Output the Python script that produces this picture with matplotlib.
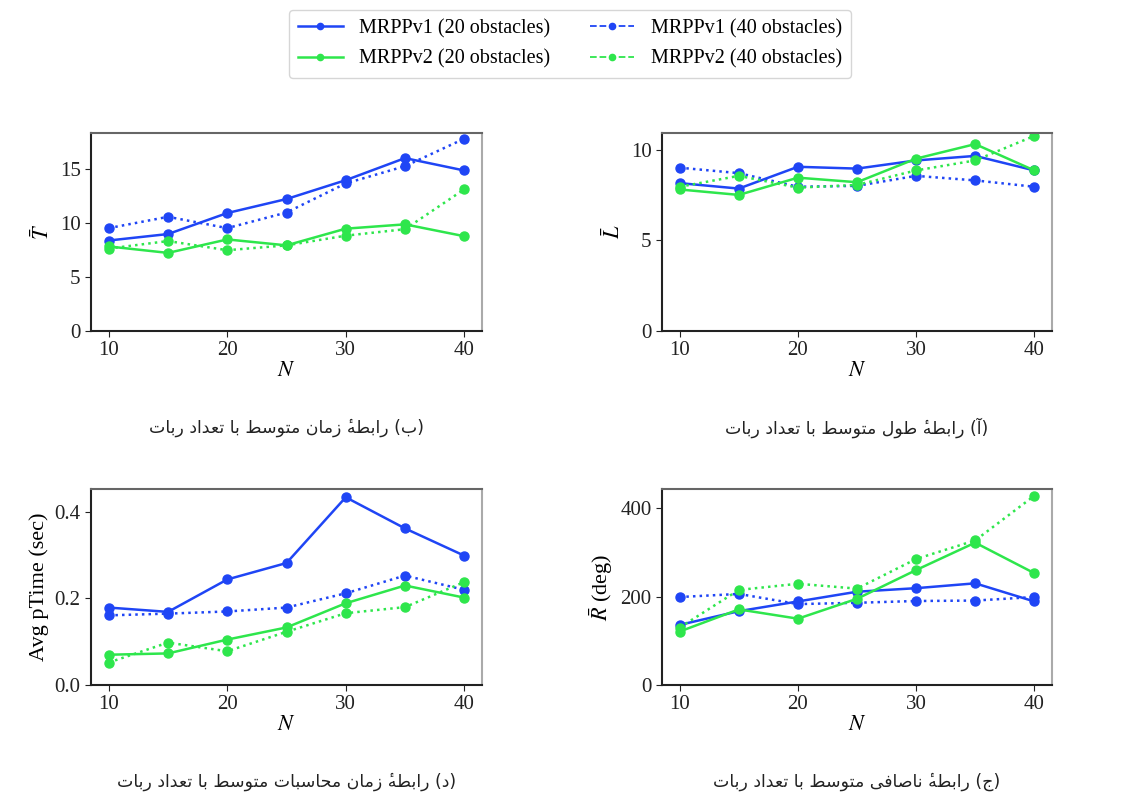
import matplotlib
matplotlib.use("Agg")
import matplotlib.pyplot as plt
from matplotlib.lines import Line2D

plt.rcParams['font.family'] = ['Liberation Serif', 'DejaVu Sans']
plt.rcParams['mathtext.fontset'] = 'stix'
plt.rcParams['font.size'] = 14

N = [10, 15, 20, 25, 30, 35, 40]

# average time
T_v1_20 = [8.4, 9.0, 10.95, 12.25, 14.0, 16.05, 14.9]
T_v1_40 = [9.55, 10.6, 9.55, 11.0, 13.7, 15.3, 17.85]
T_v2_20 = [7.85, 7.25, 8.5, 7.95, 9.5, 9.9, 8.8]
T_v2_40 = [7.65, 8.35, 7.5, 7.95, 8.85, 9.45, 13.15]

# average length
L_v1_20 = [8.15, 7.85, 9.05, 8.95, 9.4, 9.65, 8.85]
L_v1_40 = [9.0, 8.7, 7.95, 8.0, 8.55, 8.3, 7.95]
L_v2_20 = [7.8, 7.5, 8.45, 8.2, 9.5, 10.3, 8.85]
L_v2_40 = [7.95, 8.55, 7.9, 8.05, 8.85, 9.4, 10.75]

# avg computation time
P_v1_20 = [0.179, 0.169, 0.244, 0.282, 0.434, 0.362, 0.299]
P_v1_40 = [0.161, 0.165, 0.170, 0.179, 0.212, 0.253, 0.220]
P_v2_20 = [0.070, 0.073, 0.105, 0.133, 0.189, 0.230, 0.202]
P_v2_40 = [0.052, 0.098, 0.078, 0.123, 0.166, 0.180, 0.238]

# roughness
R_v1_20 = [136, 167, 189, 211, 219, 230, 189]
R_v1_40 = [199, 206, 183, 186, 190, 191, 199]
R_v2_20 = [121, 171, 150, 195, 260, 322, 253]
R_v2_40 = [130, 215, 229, 218, 285, 327, 428]

labels = ['MRPPv1 (20 obstacles)', 'MRPPv2 (20 obstacles)',
          'MRPPv1 (40 obstacles)', 'MRPPv2 (40 obstacles)']
captions = ['(ب) رابطهٔ زمان متوسط با تعداد ربات',
            '(آ) رابطهٔ طول متوسط با تعداد ربات',
            '(د) رابطهٔ زمان محاسبات متوسط با تعداد ربات',
            '(ج) رابطهٔ ناصافی متوسط با تعداد ربات']

BLUE = '#1f45f5'
GREEN = '#2ee64c'

# matplotlib has no arabic shaping, so pick presentation forms by hand
FORMS = {
    'ا': '\uFE8D\uFE8E', 'آ': '\uFE81\uFE82', 'د': '\uFEA9\uFEAA',
    'ر': '\uFEAD\uFEAE', 'ز': '\uFEAF\uFEB0', 'و': '\uFEED\uFEEE',
    'ب': '\uFE8F\uFE90\uFE91\uFE92', 'ت': '\uFE95\uFE96\uFE97\uFE98',
    'ج': '\uFE9D\uFE9E\uFE9F\uFEA0', 'ح': '\uFEA1\uFEA2\uFEA3\uFEA4',
    'س': '\uFEB1\uFEB2\uFEB3\uFEB4', 'ص': '\uFEB9\uFEBA\uFEBB\uFEBC',
    'ط': '\uFEC1\uFEC2\uFEC3\uFEC4', 'ع': '\uFEC9\uFECA\uFECB\uFECC',
    'ف': '\uFED1\uFED2\uFED3\uFED4', 'ل': '\uFEDD\uFEDE\uFEDF\uFEE0',
    'م': '\uFEE1\uFEE2\uFEE3\uFEE4', 'ن': '\uFEE5\uFEE6\uFEE7\uFEE8',
    'ه': '\uFEE9\uFEEA\uFEEB\uFEEC', 'ی': '\uFBFC\uFBFD\uFBFE\uFBFF',
}


def shape_fa(s):
    clusters = []
    for c in s:
        if c == '\u0654' and clusters:
            clusters[-1] += c
        else:
            clusters.append(c)
    out = []
    for i, cl in enumerate(clusters):
        c = cl[0]
        f = FORMS.get(c)
        if f is None:
            out.append({'(': ')', ')': '('}.get(c, c) + cl[1:])
            continue
        prev = clusters[i - 1][0] if i > 0 else ''
        nxt = clusters[i + 1][0] if i + 1 < len(clusters) else ''
        jp = prev in FORMS and len(FORMS[prev]) == 4
        jn = len(f) == 4 and nxt in FORMS
        idx = 3 if (jp and jn) else 1 if jp else 2 if jn else 0
        # mark goes before its base in visual order
        out.append(cl[1:] + f[idx])
    return ''.join(reversed(out))


W, H = 1122, 796
fig = plt.figure(figsize=(W / 100, H / 100), dpi=100)

# axes boxes in pixels: left, top, right, bottom
boxes = [(91, 133, 482, 331), (662, 133, 1052, 331),
         (91, 489, 482, 685), (662, 489, 1052, 685)]
panels = [
    (T_v1_20, T_v1_40, T_v2_20, T_v2_40, r'$\bar{T}$', [0, 5, 10, 15], '%g'),
    (L_v1_20, L_v1_40, L_v2_20, L_v2_40, r'$\bar{L}$', [0, 5, 10], '%g'),
    (P_v1_20, P_v1_40, P_v2_20, P_v2_40, 'Avg pTime (sec)', [0, 0.2, 0.4], '%.1f'),
    (R_v1_20, R_v1_40, R_v2_20, R_v2_40, r'$\bar{R}$ (deg)', [0, 200, 400], '%g'),
]

for (l, t, r, b), (a1, a2, b1, b2, ylab, yt, fmt), cap in zip(boxes, panels, captions):
    ax = fig.add_axes([l / W, 1 - b / H, (r - l) / W, (b - t) / H])
    ax.plot(N, a1, '-', color=BLUE, lw=1.8, marker='o', ms=6.5)
    ax.plot(N, a2, ':', color=BLUE, lw=1.8, marker='o', ms=6.5)
    ax.plot(N, b1, '-', color=GREEN, lw=1.8, marker='o', ms=6.5)
    ax.plot(N, b2, ':', color=GREEN, lw=1.8, marker='o', ms=6.5)
    ax.set_ylim(bottom=0)
    ax.set_xticks([10, 20, 30, 40])
    ax.set_yticks(yt)
    ax.set_yticklabels([fmt % v for v in yt])
    ax.tick_params(labelsize=15, colors='#222222', length=4)
    ax.set_xlabel(r'$N$', fontsize=16, labelpad=1)
    ax.set_ylabel(ylab, fontsize=16, labelpad=4)
    ax.spines['left'].set_color('#222222')
    ax.spines['bottom'].set_color('#222222')
    ax.spines['top'].set_color('#666666')
    ax.spines['right'].set_color('#aaaaaa')
    for sp in ax.spines.values():
        sp.set_linewidth(1.5)
    fig.text((l + r) / 2 / W, 1 - (b + 97) / H, shape_fa(cap),
             family='DejaVu Sans', fontsize=12.5, ha='center', va='center',
             color='#222222')

handles = [Line2D([], [], color=BLUE, ls='-', marker='o', ms=4.5, lw=1.8),
           Line2D([], [], color=GREEN, ls='-', marker='o', ms=4.5, lw=1.8),
           Line2D([], [], color=BLUE, ls='--', marker='o', ms=4.5, lw=1.3),
           Line2D([], [], color=GREEN, ls='--', marker='o', ms=4.5, lw=1.3)]
leg = fig.legend(handles, labels, loc='upper center', ncol=2,
                 bbox_to_anchor=(570 / W, 1 - 10 / H), borderaxespad=0,
                 fontsize=14.5, columnspacing=2.0, handlelength=2.2,
                 labelspacing=0.55, borderpad=0.45, fancybox=True)
leg.get_frame().set_edgecolor('#cccccc')

fig.savefig('out.png', dpi=100)
